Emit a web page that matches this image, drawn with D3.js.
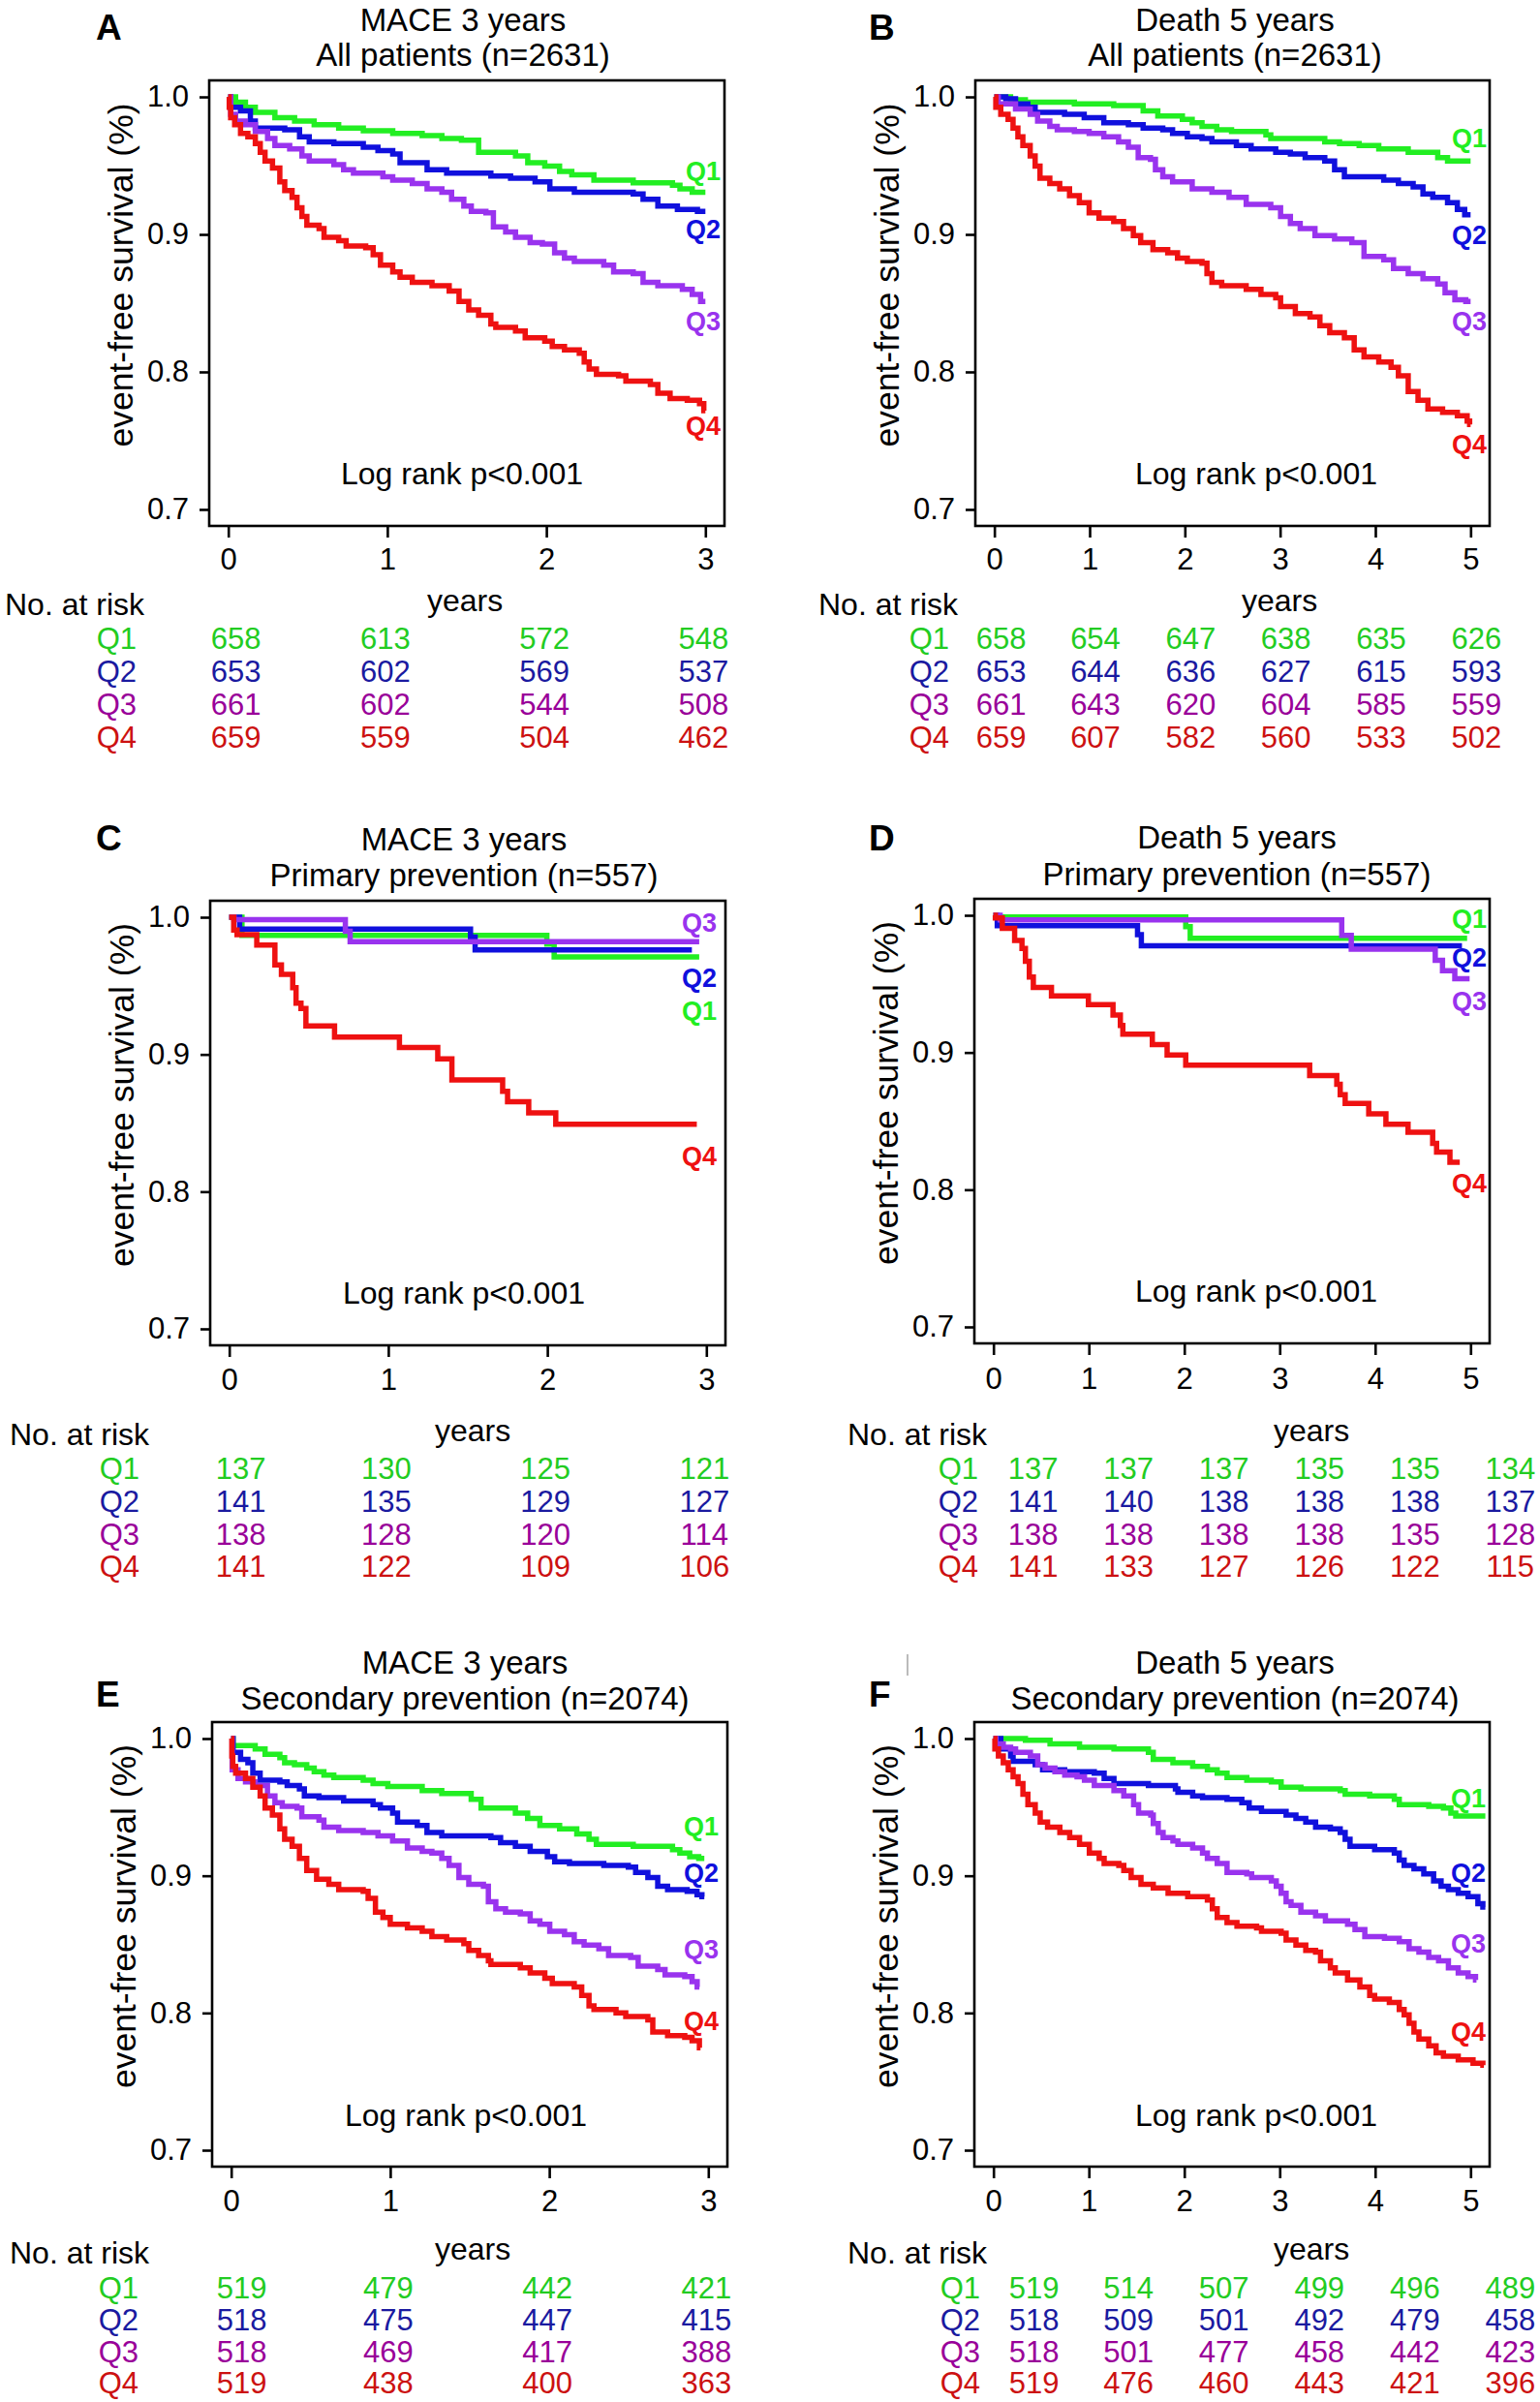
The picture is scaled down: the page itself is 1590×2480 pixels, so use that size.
<!DOCTYPE html>
<html><head><meta charset="utf-8">
<script src="https://cdn.jsdelivr.net/npm/d3@7"></script>
<style>
body{margin:0;background:#fff;}
svg{display:block;font-family:"Liberation Sans",Arial,Helvetica,sans-serif;}
</style></head><body>
<svg id="chart" width="1590" height="2480"></svg>
<script>
// ---------------- DATA ----------------
const groups = ["Q1","Q2","Q3","Q4"];
const ticks3 = [0,1,2,3];
const ticks5 = [0,1,2,3,4,5];
const yTicks = [0.7,0.8,0.9,1.0];
const titlesA = ["MACE 3 years","All patients (n=2631)"];
const titlesB = ["Death 5 years","All patients (n=2631)"];
const titlesC = ["MACE 3 years","Primary prevention (n=557)"];
const titlesD = ["Death 5 years","Primary prevention (n=557)"];
const titlesE = ["MACE 3 years","Secondary prevention (n=2074)"];
const titlesF = ["Death 5 years","Secondary prevention (n=2074)"];
const pText = "Log rank p<0.001";
const yLabel = "event-free survival (%)";
const xLabel = "years";
const riskLabel = "No. at risk";

const A_Q1 = [[0,1],[0.046,0.9962],[0.108,0.9924],[0.17,0.9887],[0.293,0.9849],[0.417,0.9824],[0.54,0.9798],[0.694,0.9773],[0.849,0.9753],[1.034,0.9735],[1.219,0.9718],[1.343,0.9697],[1.466,0.9685],[1.574,0.9597],[1.806,0.9571],[1.883,0.9521],[1.99,0.9496],[2.083,0.9458],[2.16,0.9433],[2.299,0.9395],[2.546,0.9375],[2.793,0.9357],[2.84,0.9332],[2.917,0.9307],[3.0,0.9307]];
const A_Q2 = [[0,1],[0.015,0.9924],[0.077,0.9899],[0.139,0.9824],[0.17,0.9773],[0.355,0.9761],[0.448,0.971],[0.509,0.9672],[0.664,0.966],[0.849,0.9634],[0.941,0.9609],[1.034,0.9584],[1.08,0.9521],[1.25,0.9471],[1.373,0.9445],[1.651,0.9425],[1.775,0.9408],[1.929,0.9382],[2.022,0.9332],[2.176,0.9307],[2.546,0.9294],[2.608,0.9256],[2.701,0.9206],[2.824,0.9181],[2.95,0.9168],[3.0,0.9168]];
const A_Q3 = [[0,1],[0.015,0.9874],[0.046,0.9824],[0.108,0.9798],[0.17,0.9748],[0.247,0.9698],[0.293,0.9647],[0.386,0.9622],[0.463,0.9571],[0.509,0.9534],[0.664,0.9508],[0.725,0.9471],[0.787,0.9445],[0.972,0.942],[1.034,0.9395],[1.157,0.937],[1.25,0.9332],[1.343,0.9307],[1.404,0.9256],[1.481,0.9206],[1.528,0.9168],[1.62,0.9156],[1.667,0.9055],[1.744,0.9017],[1.806,0.8979],[1.898,0.8941],[1.975,0.8929],[2.052,0.8866],[2.114,0.8828],[2.176,0.8803],[2.361,0.8777],[2.423,0.8727],[2.546,0.8714],[2.608,0.8651],[2.701,0.8626],[2.855,0.8601],[2.917,0.8563],[2.97,0.8513],[3.0,0.8513]];
const A_Q4 = [[0,1],[0.006,0.9924],[0.015,0.9849],[0.04,0.9798],[0.077,0.9735],[0.123,0.971],[0.17,0.966],[0.201,0.9597],[0.231,0.9534],[0.278,0.9483],[0.324,0.9382],[0.355,0.9319],[0.401,0.9269],[0.432,0.9193],[0.463,0.913],[0.494,0.9067],[0.571,0.9042],[0.602,0.8979],[0.694,0.8954],[0.741,0.8916],[0.864,0.8903],[0.911,0.8853],[0.957,0.8777],[1.034,0.8727],[1.08,0.8689],[1.157,0.8651],[1.281,0.8626],[1.389,0.8588],[1.451,0.8513],[1.512,0.845],[1.574,0.8412],[1.651,0.8349],[1.682,0.8324],[1.806,0.8298],[1.867,0.8248],[1.99,0.8223],[2.037,0.8185],[2.114,0.816],[2.207,0.8135],[2.238,0.8072],[2.269,0.8021],[2.315,0.7983],[2.454,0.7971],[2.5,0.7933],[2.654,0.7908],[2.701,0.7845],[2.778,0.7807],[2.886,0.7794],[2.963,0.7769],[2.99,0.7719],[3.0,0.7719]];

const B_Q1 = [[0,1],[0.17,0.998],[0.325,0.9962],[0.84,0.995],[1.253,0.9937],[1.562,0.9899],[1.716,0.9861],[1.974,0.9836],[2.077,0.9811],[2.18,0.9786],[2.335,0.976],[2.49,0.9748],[2.851,0.9723],[2.902,0.9698],[3.469,0.9672],[3.624,0.966],[3.83,0.9647],[4.036,0.9622],[4.345,0.9597],[4.655,0.9559],[4.758,0.9534],[5.0,0.9534]];
const B_Q2 = [[0,1],[0.119,0.9987],[0.222,0.995],[0.351,0.9924],[0.428,0.9887],[0.737,0.9874],[0.943,0.9849],[1.149,0.9811],[1.407,0.9798],[1.562,0.9773],[1.768,0.9761],[1.871,0.9735],[2.026,0.971],[2.18,0.9698],[2.284,0.9672],[2.541,0.9647],[2.696,0.9622],[2.954,0.9597],[3.108,0.9584],[3.263,0.9559],[3.469,0.9534],[3.572,0.9471],[3.675,0.942],[4.088,0.9395],[4.242,0.937],[4.397,0.9345],[4.5,0.9294],[4.603,0.9269],[4.758,0.9231],[4.861,0.9181],[4.938,0.9143],[5.0,0.9143]];
const B_Q3 = [[0,1],[0.041,0.995],[0.222,0.9912],[0.376,0.9874],[0.454,0.9824],[0.582,0.9786],[0.66,0.976],[0.84,0.9748],[0.995,0.9735],[1.149,0.971],[1.304,0.9672],[1.407,0.9634],[1.51,0.9559],[1.639,0.9546],[1.691,0.9471],[1.768,0.942],[1.871,0.9382],[2.077,0.9332],[2.284,0.9307],[2.464,0.9269],[2.644,0.9219],[2.902,0.9193],[3.005,0.913],[3.108,0.908],[3.211,0.9042],[3.366,0.8992],[3.572,0.8966],[3.753,0.8941],[3.881,0.884],[4.088,0.8815],[4.191,0.8752],[4.345,0.8714],[4.5,0.8677],[4.655,0.8639],[4.732,0.8576],[4.835,0.8525],[4.95,0.8513],[5.0,0.8513]];
const B_Q4 = [[0,1],[0.015,0.9924],[0.067,0.9874],[0.144,0.9836],[0.196,0.9773],[0.247,0.971],[0.299,0.9647],[0.376,0.9571],[0.428,0.9496],[0.479,0.9408],[0.582,0.937],[0.686,0.9332],[0.789,0.9282],[0.892,0.9231],[0.995,0.9156],[1.098,0.9118],[1.253,0.9093],[1.356,0.9042],[1.459,0.8992],[1.536,0.8941],[1.665,0.889],[1.82,0.8866],[1.923,0.8828],[2.026,0.8803],[2.18,0.879],[2.232,0.8714],[2.284,0.8651],[2.387,0.8626],[2.644,0.8601],[2.799,0.8563],[2.954,0.8538],[3.005,0.8475],[3.16,0.8424],[3.314,0.8399],[3.418,0.8336],[3.521,0.8286],[3.675,0.8248],[3.778,0.816],[3.881,0.8109],[4.036,0.8072],[4.165,0.8034],[4.242,0.7971],[4.345,0.7857],[4.448,0.7794],[4.552,0.7731],[4.706,0.7706],[4.861,0.7681],[4.964,0.7643],[4.99,0.7618],[5.0,0.7618]];

const C_Q1 = [[0,1],[0.08,0.9868],[1.997,0.9805],[2.043,0.9711],[2.955,0.9711]];
const C_Q2 = [[0,1],[0.065,0.9914],[1.517,0.9855],[1.546,0.9761],[2.909,0.9761]];
const C_Q3 = [[0,1],[0.03,0.9982],[0.73,0.9898],[0.76,0.9822],[2.955,0.9822]];
const C_Q4 = [[0,1],[0.028,0.9906],[0.049,0.9873],[0.173,0.9797],[0.287,0.9652],[0.328,0.9584],[0.399,0.9487],[0.42,0.9373],[0.451,0.9335],[0.482,0.9208],[0.662,0.9127],[1.07,0.9051],[1.311,0.8967],[1.4,0.8815],[1.719,0.8731],[1.75,0.8655],[1.883,0.8574],[2.053,0.8492],[2.94,0.8492]];

const D_Q1 = [[0,1],[0.03,0.9987],[2.015,0.9917],[2.062,0.9833],[4.964,0.9833]];
const D_Q2 = [[0,1],[0.04,0.9924],[1.51,0.9859],[1.55,0.9778],[4.91,0.9778]];
const D_Q3 = [[0,1],[0.07,0.9967],[3.65,0.9854],[3.75,0.9753],[4.63,0.9672],[4.706,0.9596],[4.835,0.9538],[4.99,0.9538]];
const D_Q4 = [[0,1],[0.02,0.998],[0.093,0.9904],[0.222,0.9816],[0.299,0.9758],[0.335,0.9664],[0.376,0.955],[0.418,0.9475],[0.608,0.9412],[0.995,0.9348],[1.253,0.9273],[1.33,0.9197],[1.356,0.9134],[1.665,0.9058],[1.82,0.8982],[2.015,0.8907],[3.314,0.8831],[3.598,0.8768],[3.634,0.8692],[3.686,0.8629],[3.933,0.8553],[4.113,0.8477],[4.345,0.8419],[4.603,0.8338],[4.644,0.8275],[4.784,0.82],[4.887,0.82]];

const E_Q1 = [[0,1],[0.012,0.9949],[0.151,0.9924],[0.213,0.9886],[0.306,0.9861],[0.336,0.9823],[0.398,0.981],[0.475,0.9785],[0.522,0.9759],[0.583,0.9734],[0.645,0.9716],[0.83,0.9696],[0.892,0.9671],[0.985,0.9651],[1.201,0.962],[1.324,0.96],[1.509,0.9557],[1.571,0.9494],[1.787,0.9456],[1.864,0.9418],[1.941,0.9367],[2.065,0.9342],[2.173,0.9304],[2.25,0.9266],[2.296,0.9228],[2.528,0.9215],[2.775,0.919],[2.821,0.9165],[2.883,0.9139],[2.94,0.9127],[2.975,0.9127]];
const E_Q2 = [[0,1],[0.012,0.9899],[0.059,0.9848],[0.105,0.9823],[0.136,0.9747],[0.182,0.9696],[0.306,0.9684],[0.352,0.9658],[0.429,0.9633],[0.46,0.9582],[0.552,0.957],[0.707,0.9544],[0.892,0.9519],[0.938,0.9494],[1.015,0.9456],[1.046,0.9392],[1.17,0.9367],[1.231,0.9316],[1.324,0.9291],[1.633,0.9278],[1.694,0.9241],[1.787,0.9215],[1.88,0.9177],[1.988,0.9139],[2.034,0.9101],[2.127,0.9089],[2.343,0.9076],[2.497,0.9063],[2.543,0.9025],[2.62,0.8987],[2.682,0.8924],[2.744,0.8899],[2.867,0.8886],[2.929,0.8861],[2.96,0.8848],[2.975,0.8848]];
const E_Q3 = [[0,1],[0.006,0.9772],[0.043,0.9709],[0.09,0.9684],[0.151,0.9658],[0.228,0.9582],[0.275,0.9532],[0.321,0.9506],[0.414,0.9494],[0.444,0.943],[0.552,0.9405],[0.583,0.9354],[0.676,0.9329],[0.83,0.9316],[0.923,0.9291],[1.015,0.9253],[1.108,0.9203],[1.201,0.9177],[1.262,0.9165],[1.324,0.9127],[1.37,0.9076],[1.432,0.8987],[1.494,0.8937],[1.586,0.8924],[1.617,0.881],[1.664,0.8759],[1.725,0.8734],[1.818,0.8722],[1.88,0.8671],[1.941,0.8646],[2.003,0.8595],[2.096,0.857],[2.157,0.8519],[2.219,0.8494],[2.312,0.8468],[2.373,0.8418],[2.512,0.8405],[2.559,0.8342],[2.682,0.8316],[2.728,0.8278],[2.852,0.8266],[2.898,0.8228],[2.93,0.819],[2.944,0.819]];
const E_Q4 = [[0,1],[0.004,0.9873],[0.01,0.9797],[0.028,0.9747],[0.09,0.9709],[0.136,0.9646],[0.182,0.9582],[0.213,0.9494],[0.259,0.9443],[0.306,0.9342],[0.336,0.9266],[0.383,0.9215],[0.429,0.9127],[0.475,0.9038],[0.537,0.8975],[0.614,0.8937],[0.676,0.8899],[0.83,0.8886],[0.861,0.8835],[0.907,0.8734],[0.954,0.8696],[1.0,0.8646],[1.108,0.862],[1.201,0.8595],[1.262,0.8557],[1.355,0.8532],[1.463,0.8506],[1.494,0.8456],[1.556,0.8418],[1.617,0.838],[1.633,0.8354],[1.818,0.8329],[1.88,0.8291],[1.972,0.8253],[2.019,0.8215],[2.157,0.819],[2.204,0.8127],[2.25,0.8051],[2.281,0.8025],[2.42,0.8],[2.481,0.7975],[2.62,0.7949],[2.651,0.7861],[2.744,0.7835],[2.852,0.7823],[2.898,0.7797],[2.944,0.7747],[2.951,0.7747]];

const F_Q1 = [[0,1],[0.335,0.9987],[0.593,0.9962],[0.902,0.9937],[1.263,0.9924],[1.624,0.9899],[1.675,0.9848],[1.881,0.9823],[2.088,0.9797],[2.242,0.9772],[2.345,0.9747],[2.448,0.9716],[2.655,0.9696],[2.912,0.9684],[3.015,0.9646],[3.222,0.9633],[3.634,0.962],[3.686,0.9595],[3.943,0.9582],[4.201,0.9557],[4.253,0.9519],[4.562,0.9506],[4.716,0.9494],[4.794,0.9456],[4.845,0.9435],[5.155,0.9435]];
const F_Q2 = [[0,1],[0.077,0.9924],[0.18,0.9873],[0.206,0.9835],[0.438,0.981],[0.515,0.9772],[0.747,0.9759],[1.057,0.9747],[1.16,0.9709],[1.263,0.9671],[1.624,0.9658],[1.907,0.9633],[1.933,0.9608],[2.088,0.9582],[2.191,0.957],[2.448,0.9557],[2.603,0.9532],[2.68,0.9494],[2.809,0.9468],[3.067,0.9443],[3.17,0.9418],[3.273,0.9392],[3.376,0.9354],[3.531,0.9342],[3.634,0.9316],[3.686,0.9266],[3.737,0.9215],[3.995,0.919],[4.201,0.9165],[4.253,0.9114],[4.304,0.9076],[4.407,0.9051],[4.51,0.9013],[4.613,0.8962],[4.691,0.8924],[4.768,0.8899],[4.871,0.8873],[4.974,0.8848],[5.077,0.8797],[5.129,0.8772],[5.155,0.8772]];
const F_Q3 = [[0,1],[0.026,0.9962],[0.103,0.9937],[0.18,0.9924],[0.232,0.9899],[0.387,0.9873],[0.464,0.981],[0.541,0.9785],[0.644,0.9759],[0.747,0.9734],[0.876,0.9722],[0.954,0.9696],[1.057,0.9658],[1.263,0.962],[1.366,0.9582],[1.469,0.9519],[1.521,0.9456],[1.649,0.9443],[1.675,0.938],[1.727,0.9316],[1.778,0.9278],[1.881,0.9253],[1.933,0.9228],[2.088,0.9203],[2.191,0.9165],[2.242,0.9127],[2.345,0.9089],[2.448,0.9025],[2.655,0.9013],[2.706,0.8987],[2.912,0.8962],[2.964,0.8924],[3.015,0.8873],[3.067,0.881],[3.119,0.8785],[3.222,0.8734],[3.376,0.8709],[3.479,0.8671],[3.711,0.8646],[3.789,0.8608],[3.892,0.8557],[4.098,0.8544],[4.253,0.8519],[4.356,0.8468],[4.459,0.8443],[4.562,0.8405],[4.665,0.838],[4.768,0.8329],[4.871,0.8291],[4.974,0.8266],[5.052,0.8241],[5.062,0.8241]];
const F_Q4 = [[0,1],[0.015,0.9924],[0.052,0.9873],[0.103,0.9823],[0.155,0.9772],[0.206,0.9722],[0.258,0.9671],[0.309,0.9595],[0.361,0.9519],[0.438,0.9456],[0.49,0.9392],[0.567,0.9354],[0.696,0.9316],[0.799,0.9278],[0.902,0.9228],[1.005,0.9165],[1.108,0.9127],[1.16,0.9089],[1.314,0.9076],[1.366,0.9038],[1.443,0.8987],[1.546,0.8937],[1.675,0.8911],[1.83,0.8873],[2.036,0.8848],[2.242,0.8823],[2.294,0.8759],[2.345,0.8696],[2.448,0.8658],[2.552,0.8633],[2.758,0.862],[2.809,0.8595],[3.015,0.8582],[3.067,0.8532],[3.17,0.8494],[3.273,0.8456],[3.376,0.8443],[3.428,0.838],[3.531,0.8329],[3.582,0.8291],[3.711,0.8241],[3.84,0.819],[3.943,0.8127],[3.995,0.8101],[4.149,0.8076],[4.253,0.8025],[4.304,0.7987],[4.356,0.7924],[4.407,0.7861],[4.459,0.781],[4.562,0.776],[4.639,0.7709],[4.716,0.7684],[4.871,0.7658],[5.026,0.7633],[5.129,0.762],[5.14,0.762]];

const riskA = [[658,613,572,548],[653,602,569,537],[661,602,544,508],[659,559,504,462]];
const riskB = [[658,654,647,638,635,626],[653,644,636,627,615,593],[661,643,620,604,585,559],[659,607,582,560,533,502]];
const riskC = [[137,130,125,121],[141,135,129,127],[138,128,120,114],[141,122,109,106]];
const riskD = [[137,137,137,135,135,134],[141,140,138,138,138,137],[138,138,138,138,135,128],[141,133,127,126,122,115]];
const riskE = [[519,479,442,421],[518,475,447,415],[518,469,417,388],[519,438,400,363]];
const riskF = [[519,514,507,499,496,489],[518,509,501,492,479,458],[518,501,477,458,442,423],[519,476,460,443,421,396]];

// ---------------- STYLE / LAYOUT ----------------
const curveColors = ["#22ee22","#1010dd","#9933ee","#ee1111"];
const tableColors = ["#22cc22","#1a1aa0","#990099","#cc1111"];
const FS_TITLE = 33, FS_TEXT = 32, FS_NUM = 31, FS_YLAB = 35.5, FS_Q = 27, FS_LETTER = 37;

const panels = [
 {letter:"A", titles:titlesA, curves:[A_Q1,A_Q2,A_Q3,A_Q4], risk:riskA, ticks:ticks3,
  box:[216,748,83,543], letterPos:[99,41], titleX:478, titleY:[32,68], tickLabY:588,
  lr:[477,500], qx:744, qy:[0.9396,0.897,0.83,0.7544],
  noX:5, noY:635, rows:[670,704,738,772], qRight:141, yearsX:480, off0:8, off:-2},
 {letter:"B", titles:titlesB, curves:[B_Q1,B_Q2,B_Q3,B_Q4], risk:riskB, ticks:ticks5,
  box:[1007,1538,83,543], letterPos:[897,41], titleX:1275, titleY:[32,68], tickLabY:588,
  lr:[1297,500], qx:1535, qy:[0.9635,0.893,0.83,0.7405],
  noX:845, noY:635, rows:[670,704,738,772], qRight:980, yearsX:1321, off0:7, off:6},
 {letter:"C", titles:titlesC, curves:[C_Q1,C_Q2,C_Q3,C_Q4], risk:riskC, ticks:ticks3,
  box:[217,749,930,1389], letterPos:[99,878], titleX:479, titleY:[878,915], tickLabY:1435,
  lr:[479,1346], qx:740, qy:[0.925,0.949,0.9894,0.819],
  noX:10, noY:1492, rows:[1527,1561,1595,1628], qRight:144, yearsX:488, off0:12, off:-2},
 {letter:"D", titles:titlesD, curves:[D_Q1,D_Q2,D_Q3,D_Q4], risk:riskD, ticks:ticks5,
  box:[1006,1538,928,1387], letterPos:[897,878], titleX:1277, titleY:[876,914], tickLabY:1434,
  lr:[1297,1344], qx:1535, qy:[0.9905,0.9627,0.931,0.7978],
  noX:875, noY:1492, rows:[1527,1561,1595,1628], qRight:1010, yearsX:1354, off0:41, off:41},
 {letter:"E", titles:titlesE, curves:[E_Q1,E_Q2,E_Q3,E_Q4], risk:riskE, ticks:ticks3,
  box:[219,751,1778,2237], letterPos:[99,1762], titleX:480, titleY:[1728,1765], tickLabY:2283,
  lr:[481,2195], qx:742, qy:[0.9295,0.8955,0.84,0.7873],
  noX:10, noY:2337, rows:[2373,2406,2439,2471], qRight:143, yearsX:488, off0:11, off:-2},
 {letter:"F", titles:titlesF, curves:[F_Q1,F_Q2,F_Q3,F_Q4], risk:riskF, ticks:ticks5,
  box:[1006,1538,1778,2237], letterPos:[897,1762], titleX:1275, titleY:[1728,1765], tickLabY:2283,
  lr:[1297,2195], qx:1534, qy:[0.9497,0.8955,0.8437,0.7796],
  noX:875, noY:2337, rows:[2373,2406,2439,2471], qRight:1012, yearsX:1354, off0:42, off:41}
];

// ---------------- DRAW ----------------
const svg = d3.select("#chart");
svg.append("rect").attr("width",1590).attr("height",2480).attr("fill","#fff");

panels.forEach(p => {
  const g = svg.append("g");
  const xmax = d3.max(p.ticks);
  const x = d3.scaleLinear().domain([-0.04*xmax, 1.04*xmax]).range([p.box[0], p.box[1]]);
  const y = d3.scaleLinear().domain([0.688, 1.012]).range([p.box[3], p.box[2]]);

  // survival curves
  const line = d3.line().x(d => x(d[0])).y(d => y(d[1])).curve(d3.curveStepAfter);
  g.selectAll("path.km").data(p.curves).join("path")
    .attr("class","km")
    .attr("d", d => line(d))
    .attr("fill","none")
    .attr("stroke",(d,i) => curveColors[i])
    .attr("stroke-width",5.5)
    .attr("stroke-linejoin","miter");

  // box
  g.append("rect").attr("x",p.box[0]).attr("y",p.box[2])
    .attr("width",p.box[1]-p.box[0]).attr("height",p.box[3]-p.box[2])
    .attr("fill","none").attr("stroke","#000").attr("stroke-width",2.6);

  // x axis
  const xa = g.append("g").attr("transform",`translate(0,${p.box[3]})`)
    .call(d3.axisBottom(x).tickValues(p.ticks).tickSize(12).tickFormat(d3.format("d")));
  xa.select(".domain").remove();
  xa.attr("font-family",null).attr("font-size",FS_NUM);
  xa.selectAll(".tick line").attr("stroke","#000").attr("stroke-width",2.6);
  xa.selectAll(".tick text").attr("y", p.tickLabY - p.box[3]).attr("dy",0).attr("fill","#000");

  // y axis
  const ya = g.append("g").attr("transform",`translate(${p.box[0]},0)`)
    .call(d3.axisLeft(y).tickValues(yTicks).tickSize(10).tickPadding(11).tickFormat(d3.format(".1f")));
  ya.select(".domain").remove();
  ya.attr("font-family",null).attr("font-size",FS_NUM);
  ya.selectAll(".tick line").attr("stroke","#000").attr("stroke-width",2.6);
  ya.selectAll(".tick text").attr("fill","#000");

  // y label
  const ylY = (y(1.0)+y(0.7))/2 - 29;
  g.append("text").attr("transform",`translate(${p.box[0]-79},${ylY}) rotate(-90)`)
    .attr("text-anchor","middle").attr("font-size",FS_YLAB).text(yLabel);

  // titles
  p.titles.forEach((t,i) => {
    g.append("text").attr("x",p.titleX).attr("y",p.titleY[i])
      .attr("text-anchor","middle").attr("font-size",FS_TITLE).text(t);
  });
  g.append("text").attr("x",p.letterPos[0]).attr("y",p.letterPos[1])
    .attr("font-size",FS_LETTER).attr("font-weight","bold").text(p.letter);

  // log rank
  g.append("text").attr("x",p.lr[0]).attr("y",p.lr[1])
    .attr("text-anchor","middle").attr("font-size",FS_TEXT).text(pText);

  // group labels at curve ends
  groups.forEach((q,i) => {
    g.append("text").attr("x",p.qx).attr("y",y(p.qy[i]))
      .attr("text-anchor","end").attr("font-size",FS_Q).attr("font-weight","bold")
      .attr("fill",curveColors[i]).text(q);
  });

  // risk table
  g.append("text").attr("x",p.noX).attr("y",p.noY).attr("font-size",FS_TEXT).text(riskLabel);
  g.append("text").attr("x",p.yearsX).attr("y",p.noY-4).attr("text-anchor","middle")
    .attr("font-size",FS_TEXT).text(xLabel);
  groups.forEach((q,i) => {
    g.append("text").attr("x",p.qRight).attr("y",p.rows[i]).attr("text-anchor","end")
      .attr("font-size",FS_NUM).attr("fill",tableColors[i]).text(q);
    p.risk[i].forEach((v,j) => {
      g.append("text").attr("x",x(p.ticks[j]) + (j===0 ? p.off0 : p.off)).attr("y",p.rows[i])
        .attr("text-anchor","middle").attr("font-size",FS_NUM).attr("fill",tableColors[i]).text(v);
    });
  });
});

// small stray mark present in the original figure near panel F
svg.append("line").attr("x1",937).attr("x2",937).attr("y1",1708).attr("y2",1730)
  .attr("stroke","#bbb").attr("stroke-width",2);
</script>
</body></html>
